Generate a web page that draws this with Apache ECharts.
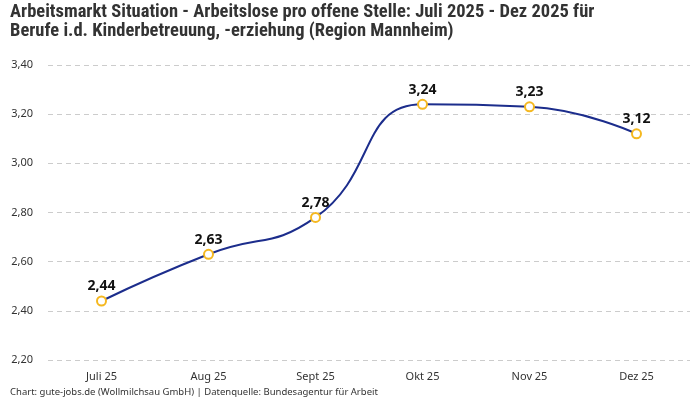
<!DOCTYPE html>
<html><head><meta charset="utf-8">
<script src="https://cdn.jsdelivr.net/npm/echarts@6/dist/echarts.min.js"></script>
<style>html,body{margin:0;padding:0;background:#fff}#c{width:700px;height:400px}</style>
</head><body><div id="c"></div>
<script>
var categories = ["Juli 25", "Aug 25", "Sept 25", "Okt 25", "Nov 25", "Dez 25"];
var values = [2.44, 2.63, 2.78, 3.24, 3.23, 3.12];
var yTicks = [2.2, 2.4, 2.6, 2.8, 3.0, 3.2, 3.4];
var titleText = "Arbeitsmarkt Situation - Arbeitslose pro offene Stelle: Juli 2025 - Dez 2025 für\nBerufe i.d. Kinderbetreuung, -erziehung (Region Mannheim)";
var footerText = "Chart: gute-jobs.de (Wollmilchsau GmbH) | Datenquelle: Bundesagentur für Arbeit";

var fmt = function(v){ return v.toFixed(2).replace('.', ','); };
var chart = echarts.init(document.getElementById('c'));
chart.setOption({
  animation: false,
  title: [{
    text: titleText, left: 10, top: 3, padding: 0,
    textStyle: {fontFamily: "'Roboto Condensed', 'DejaVu Sans Condensed', sans-serif", fontWeight: 'bold', fontSize: 18.5, color: '#333', lineHeight: 19}
  }, {
    text: footerText, left: 10, top: 387, padding: 0,
    textStyle: {fontFamily: "'Noto Sans', sans-serif", fontWeight: 'normal', fontSize: 9.5, color: '#333'}
  }],
  grid: {left: 48, right: 10, top: 65, bottom: 40},
  xAxis: {
    type: 'category', data: categories, boundaryGap: true,
    axisLine: {show: false}, axisTick: {show: false},
    axisLabel: {color: '#333', fontSize: 11, margin: 11, fontFamily: "'Noto Sans', sans-serif"}
  },
  yAxis: {
    type: 'value', min: yTicks[0], max: yTicks[yTicks.length-1], interval: 0.2,
    axisLine: {show: false}, axisTick: {show: false},
    axisLabel: {color: '#333', fontSize: 11, margin: 15, formatter: fmt, fontFamily: "'Noto Sans', sans-serif"},
    splitLine: {lineStyle: {type: [5, 4], color: '#ccc'}}
  },
  series: [{
    type: 'line', data: values, smooth: 0.5,
    lineStyle: {color: '#1c2d8c', width: 2},
    symbol: 'circle', symbolSize: 9,
    itemStyle: {color: '#fff', borderColor: '#f5b820', borderWidth: 2},
    label: {show: true, position: 'top', distance: 2, formatter: function(p){return fmt(p.value);}, color: '#111', fontWeight: 'bold', fontSize: 14, fontFamily: "'Noto Sans', sans-serif"}
  }]
});
</script></body></html>
